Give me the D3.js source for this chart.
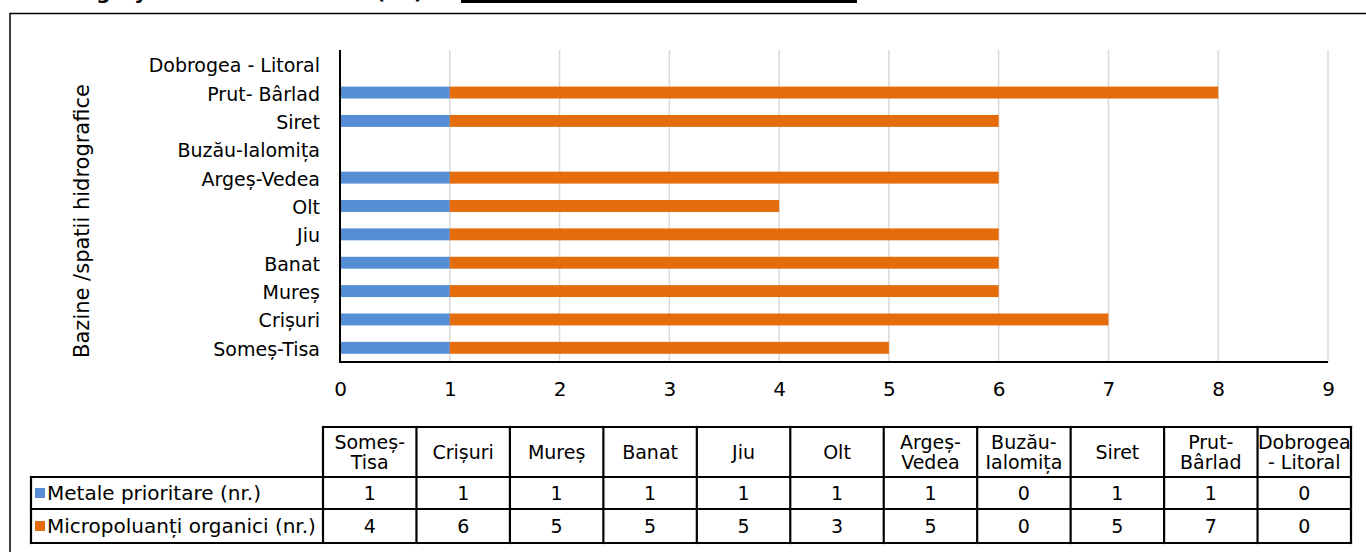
<!DOCTYPE html>
<html>
<head>
<meta charset="utf-8">
<script src="https://cdn.jsdelivr.net/npm/d3@7"></script>
<style>
  html, body { margin: 0; padding: 0; background: #fff; }
  svg { display: block; font-family: "DejaVu Sans", sans-serif; }
</style>
</head>
<body>
<svg id="chart" width="1366" height="552"></svg>
<script>
// River basins / hydrographic areas (bottom to top on the chart)
const categories = ["Someș-Tisa", "Crișuri", "Mureș", "Banat", "Jiu", "Olt", "Argeș-Vedea",
  "Buzău-Ialomița", "Siret", "Prut- Bârlad", "Dobrogea - Litoral"];
// Column headings used in the data table (line breaks as printed)
const tableHeads = [["Someș-", "Tisa"], ["Crișuri"], ["Mureș"], ["Banat"], ["Jiu"], ["Olt"],
  ["Argeș-", "Vedea"], ["Buzău-", "Ialomița"], ["Siret"], ["Prut-", "Bârlad"], ["Dobrogea", "- Litoral"]];
// Series
const seriesNames = ["Metale prioritare (nr.)", "Micropoluanți organici (nr.)"];
const metale = [1, 1, 1, 1, 1, 1, 1, 0, 1, 1, 0];
const micropoluanti = [4, 6, 5, 5, 5, 3, 5, 0, 5, 7, 0];
const seriesColors = ["#558ED5", "#E46C0A"];
// Value axis ticks
const xTicks = [0, 1, 2, 3, 4, 5, 6, 7, 8, 9];
const yTitle = "Bazine /spatii hidrografice";

const svg = d3.select("#chart");

// Heading line running off the top edge, and the black rule next to it
svg.append("text").attr("x", 45).attr("y", -1)
  .attr("font-weight", "bold").attr("font-size", 20)
  .text("Category of substances");
svg.append("text").attr("x", 376).attr("y", -1)
  .attr("font-weight", "bold").attr("font-size", 20)
  .text("(nr.)");
svg.append("rect").attr("x", 461).attr("y", 0).attr("width", 396).attr("height", 3).attr("fill", "#000");

// Chart frame (left and top edges)
svg.append("path").attr("d", "M10,552 L10,13.5 L1366,13.5")
  .attr("fill", "none").attr("stroke", "#000").attr("stroke-width", 1.5);

// Plot area
const plot = { left: 340, right: 1328, top: 50, bottom: 362 };

const x = d3.scaleLinear().domain([0, 9]).range([plot.left, plot.right]);
const y = d3.scaleBand().domain(categories.slice().reverse())
  .range([plot.top, plot.bottom]).paddingInner(0.58).paddingOuter(0.29);

// Vertical gridlines
svg.append("g").selectAll("line").data(xTicks.filter(d => d > 0)).join("line")
  .attr("x1", d => x(d)).attr("x2", d => x(d))
  .attr("y1", plot.top).attr("y2", plot.bottom)
  .attr("stroke", "#d9d9d9").attr("stroke-width", 1.5);

// Stacked bars
const rows = categories.map((c, i) => ({ cat: c, m: metale[i], o: micropoluanti[i] }));
const stacked = d3.stack().keys(["m", "o"])(rows);
svg.append("g").selectAll("g").data(stacked).join("g")
  .attr("fill", (d, i) => seriesColors[i])
  .selectAll("rect").data(d => d).join("rect")
  .attr("x", d => x(d[0]))
  .attr("width", d => x(d[1]) - x(d[0]))
  .attr("y", d => y(d.data.cat))
  .attr("height", y.bandwidth());

// Category axis
const yAxis = svg.append("g").attr("transform", `translate(${plot.left},0)`)
  .call(d3.axisLeft(y).tickSize(0).tickPadding(20));
yAxis.select(".domain").attr("stroke", "#000").attr("stroke-width", 2)
  .attr("d", `M0,${plot.top}V${plot.bottom + 1}`);
yAxis.selectAll("text").attr("font-size", 19).attr("fill", "#000")
  .attr("font-family", "DejaVu Sans").attr("dy", "0.42em");

// Value axis
const xAxis = svg.append("g").attr("transform", `translate(0,${plot.bottom})`)
  .call(d3.axisBottom(x).tickValues(xTicks).tickSize(0).tickPadding(20).tickFormat(d3.format("d")));
xAxis.select(".domain").attr("stroke", "#000").attr("stroke-width", 2)
  .attr("d", `M${plot.left - 1},0H${plot.right}`);
xAxis.selectAll("text").attr("font-size", 20).attr("fill", "#000")
  .attr("font-family", "DejaVu Sans");

// Axis title
svg.append("text")
  .attr("transform", "translate(89,221) rotate(-90)")
  .attr("text-anchor", "middle").attr("font-size", 21)
  .text(yTitle);

// Data table
const tbl = { legendLeft: 31, left: 323, right: 1351, headTop: 427, r1: 477, r2: 509, bottom: 543 };
const col = d3.scaleBand().domain(d3.range(categories.length)).range([tbl.left, tbl.right]);
const tg = svg.append("g").attr("font-size", 19);
function line(x1, y1, x2, y2) {
  tg.append("line").attr("x1", x1).attr("y1", y1).attr("x2", x2).attr("y2", y2)
    .attr("stroke", "#000").attr("stroke-width", 2.2).attr("stroke-linecap", "square");
}
// horizontal rules
line(tbl.left, tbl.headTop, tbl.right, tbl.headTop);
line(tbl.legendLeft, tbl.r1, tbl.right, tbl.r1);
line(tbl.legendLeft, tbl.r2, tbl.right, tbl.r2);
line(tbl.legendLeft, tbl.bottom, tbl.right, tbl.bottom);
// vertical rules
line(tbl.legendLeft, tbl.r1, tbl.legendLeft, tbl.bottom);
d3.range(categories.length + 1).forEach(i => {
  const xx = i < categories.length ? col(i) : tbl.right;
  line(xx, tbl.headTop, xx, tbl.bottom);
});
// headings
tableHeads.forEach((lines, i) => {
  const cx = col(i) + col.bandwidth() / 2;
  const midY = (tbl.headTop + tbl.r1) / 2;
  const lh = 20;
  const t = tg.append("text").attr("text-anchor", "middle");
  lines.forEach((s, k) => {
    t.append("tspan").attr("x", cx)
      .attr("y", midY + (k - (lines.length - 1) / 2) * lh)
      .attr("dy", "0.35em").text(s);
  });
});
// series rows
[metale, micropoluanti].forEach((vals, si) => {
  const top = si === 0 ? tbl.r1 : tbl.r2;
  const bot = si === 0 ? tbl.r2 : tbl.bottom;
  const cy = (top + bot) / 2;
  tg.append("rect").attr("x", 35).attr("y", cy - 5).attr("width", 10).attr("height", 10)
    .attr("fill", seriesColors[si]);
  tg.append("text").attr("x", 47).attr("y", cy).attr("dy", "0.35em").attr("font-size", 20)
    .text(seriesNames[si]);
  vals.forEach((v, i) => {
    tg.append("text").attr("x", col(i) + col.bandwidth() / 2).attr("y", cy)
      .attr("dy", "0.35em").attr("text-anchor", "middle").text(v);
  });
});
</script>
</body>
</html>
